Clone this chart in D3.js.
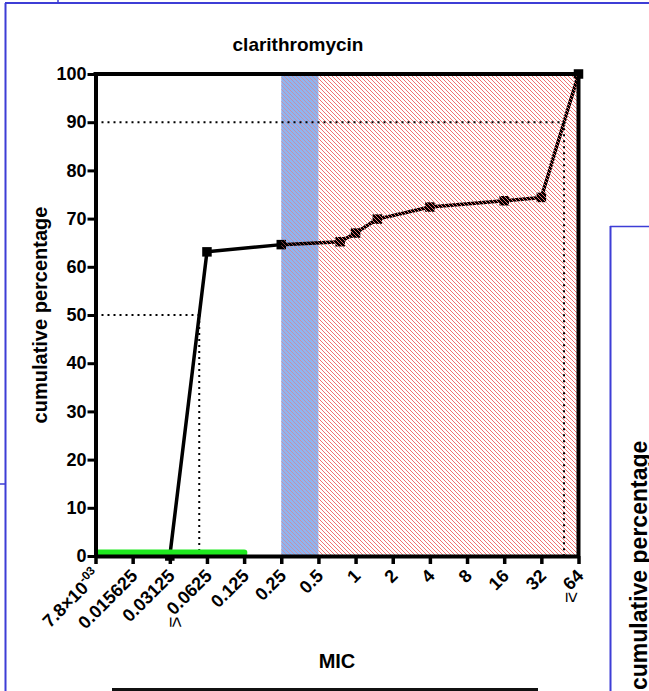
<!DOCTYPE html>
<html>
<head>
<meta charset="utf-8">
<script src="https://cdn.jsdelivr.net/npm/d3@7"></script>
<style>
  html, body { margin: 0; padding: 0; background: #fff; }
  svg { display: block; font-family: Arial, "Liberation Sans", sans-serif; }
</style>
</head>
<body>
<svg id="chart" width="649" height="691"></svg>
<script>
// Cumulative distribution of clarithromycin MICs
const micValues     = [0.03125, 0.0625, 0.25, 0.75, 1, 1.5, 4, 16, 32, 64];
const cumulativePct = [0, 63.1, 64.6, 65.2, 67.0, 69.9, 72.4, 73.7, 74.4, 100];

const xTickValues = [2 ** -7, 2 ** -6, 2 ** -5, 2 ** -4, 2 ** -3, 2 ** -2, 2 ** -1, 1, 2, 4, 8, 16, 32, 64];
const xTickLabels = ["7.8×10^-03", "0.015625", "0.03125", "≤0.0625", "0.125", "0.25", "0.5",
                     "1", "2", "4", "8", "16", "32", "≥64"];
const yTickValues = [0, 10, 20, 30, 40, 50, 60, 70, 80, 90, 100];

const susceptibleRange  = [2 ** -7, 0.125];   // green bar along the baseline
const intermediateRange = [0.25, 0.5];        // blue band
const resistantRange    = [0.25, 64];         // hatched band
const cutoffLevels      = [50, 90];           // MIC50 / MIC90 guides

const svg = d3.select("#chart");
const frameBlue = "#3d3dd6";

// page frame pieces around the graph
svg.append("line").attr("x1", 5).attr("x2", 649).attr("y1", 3).attr("y2", 3)
  .attr("stroke", frameBlue).attr("stroke-width", 2);
svg.append("line").attr("x1", 5.5).attr("x2", 5.5).attr("y1", 3).attr("y2", 691)
  .attr("stroke", frameBlue).attr("stroke-width", 2);
svg.append("line").attr("x1", 58).attr("x2", 58).attr("y1", 0).attr("y2", 3)
  .attr("stroke", frameBlue).attr("stroke-width", 1.5);
svg.append("line").attr("x1", 0).attr("x2", 5).attr("y1", 484).attr("y2", 484)
  .attr("stroke", frameBlue).attr("stroke-width", 1.5);
svg.append("line").attr("x1", 610.5).attr("x2", 610.5).attr("y1", 226).attr("y2", 691)
  .attr("stroke", frameBlue).attr("stroke-width", 2);
svg.append("line").attr("x1", 610).attr("x2", 649).attr("y1", 226.5).attr("y2", 226.5)
  .attr("stroke", frameBlue).attr("stroke-width", 1.5);

const x = d3.scaleLog().base(2).domain([xTickValues[0], xTickValues[xTickValues.length - 1]]).range([95.5, 578.5]);
const y = d3.scaleLinear().domain([0, 100]).range([556, 74]);

// hatch patterns: one-pixel stepped diagonals, fainter over the blue band
const defs = svg.append("defs");
function makeHatch(id, opacity) {
  const p = defs.append("pattern").attr("id", id).attr("patternUnits", "userSpaceOnUse")
    .attr("width", 4).attr("height", 4);
  d3.range(4).forEach(k => {
    p.append("rect").attr("x", k).attr("y", k).attr("width", 1).attr("height", 1)
      .attr("fill", "#f07272").attr("fill-opacity", opacity).attr("shape-rendering", "crispEdges");
  });
}
makeHatch("hatch", 1);
makeHatch("hatchSoft", 0.55);

// intermediate band
svg.append("rect")
  .attr("x", x(intermediateRange[0])).attr("y", y(100))
  .attr("width", x(intermediateRange[1]) - x(intermediateRange[0]))
  .attr("height", y(0) - y(100))
  .attr("fill", "#8fb5f0");

// cumulative curve
const pts = micValues.map((m, i) => [x(m), y(cumulativePct[i])]);
svg.append("path").attr("d", d3.line()(pts))
  .attr("fill", "none").attr("stroke", "#000").attr("stroke-width", 3.5)
  .attr("stroke-linejoin", "round");
svg.selectAll("rect.pt").data(pts).join("rect").attr("class", "pt")
  .attr("x", d => d[0] - 4.75).attr("y", d => d[1] - 4.75)
  .attr("width", 9.5).attr("height", 9.5).attr("fill", "#000");

// resistant band drawn over the curve
svg.append("rect")
  .attr("x", x(resistantRange[0])).attr("y", y(100))
  .attr("width", x(intermediateRange[1]) - x(resistantRange[0]))
  .attr("height", y(0) - y(100))
  .attr("fill", "url(#hatchSoft)");
svg.append("rect")
  .attr("x", x(intermediateRange[1])).attr("y", y(100))
  .attr("width", x(resistantRange[1]) - x(intermediateRange[1]))
  .attr("height", y(0) - y(100))
  .attr("fill", "url(#hatch)");

// MIC50 / MIC90 guide lines, found along the curve
cutoffLevels.forEach(level => {
  for (let i = 0; i < cumulativePct.length - 1; i++) {
    const a = cumulativePct[i], b = cumulativePct[i + 1];
    if (a < level && level <= b) {
      const t = (level - a) / (b - a);
      const px = pts[i][0] + t * (pts[i + 1][0] - pts[i][0]);
      const py = y(level);
      svg.append("path")
        .attr("d", `M${x.range()[0]},${py} H${px} M${px},${py} V${y(0)}`)
        .attr("fill", "none").attr("stroke", "#000").attr("stroke-width", 2)
        .attr("stroke-dasharray", "2,4");
      break;
    }
  }
});

// susceptible bar
svg.append("line")
  .attr("x1", x(susceptibleRange[0]) + 3).attr("x2", x(susceptibleRange[1]))
  .attr("y1", y(0.7)).attr("y2", y(0.7))
  .attr("stroke", "#1fe81f").attr("stroke-width", 6.5).attr("stroke-linecap", "round");

// axes
const yAxis = svg.append("g").attr("transform", `translate(${x.range()[0]},0)`)
  .call(d3.axisLeft(y).tickValues(yTickValues).tickSize(8).tickSizeOuter(0).tickPadding(1));
yAxis.select(".domain").attr("stroke-width", 4);
yAxis.selectAll(".tick line").attr("stroke-width", 3);
yAxis.selectAll(".tick text").attr("font-size", 18).attr("font-weight", "bold")
  .attr("font-family", "Arial, 'Liberation Sans', sans-serif").attr("fill", "#000");

const xAxis = svg.append("g").attr("transform", `translate(0,${y(0)})`)
  .call(d3.axisBottom(x).tickValues(xTickValues).tickFormat("").tickSize(8).tickSizeOuter(0));
xAxis.select(".domain").attr("stroke-width", 4);
xAxis.selectAll(".tick line").attr("stroke-width", 3.5);

// top and right frame
svg.append("path")
  .attr("d", `M${x.range()[0] - 2},${y(100)} H${x.range()[1]} V${y(0)}`)
  .attr("fill", "none").attr("stroke", "#000").attr("stroke-width", 4);

// x tick labels, rotated
const labelG = svg.append("g").attr("font-size", 18).attr("font-weight", "bold");
xTickValues.forEach((v, i) => {
  const raw = xTickLabels[i];
  let prefix = "";
  let body = raw;
  if (raw[0] === "≤" || raw[0] === "≥") { prefix = raw[0]; body = raw.slice(1); }
  const px = x(v) + 6, py = y(0) + 21;
  const t = labelG.append("text").attr("text-anchor", "end")
    .attr("transform", `translate(${px},${py}) rotate(-45)`);
  if (body.includes("^")) {
    const [base, sup] = body.split("^");
    t.append("tspan").text(base);
    t.append("tspan").attr("font-size", 12).attr("dy", -8).text(sup);
  } else {
    t.text(body);
  }
  if (prefix) {
    const w = t.node().getComputedTextLength();
    const d = w / Math.SQRT2;
    labelG.append("text").attr("text-anchor", "middle").attr("font-weight", "normal")
      .attr("font-size", 19)
      .attr("transform", `translate(${px - d - 4},${py + d + 6}) rotate(90)`)
      .text(prefix);
  }
});

// titles
svg.append("text").attr("x", 298).attr("y", 51).attr("text-anchor", "middle")
  .attr("font-size", 19).attr("font-weight", "bold").text("clarithromycin");
svg.append("text").attr("transform", "translate(47,315) rotate(-90)").attr("text-anchor", "middle")
  .attr("font-size", 20).attr("font-weight", "bold").text("cumulative percentage");
svg.append("text").attr("x", 337).attr("y", 668).attr("text-anchor", "middle")
  .attr("font-size", 20).attr("font-weight", "bold").text("MIC");

// rule under the graph
svg.append("line").attr("x1", 112).attr("x2", 538).attr("y1", 689.5).attr("y2", 689.5)
  .attr("stroke", "#111").attr("stroke-width", 3);

// neighbouring panel's axis title, partly visible at the right edge
svg.append("text").attr("transform", "translate(647,690) rotate(-90)").attr("text-anchor", "start")
  .attr("font-size", 23).attr("font-weight", "bold").text("cumulative percentage");
</script>
</body>
</html>
